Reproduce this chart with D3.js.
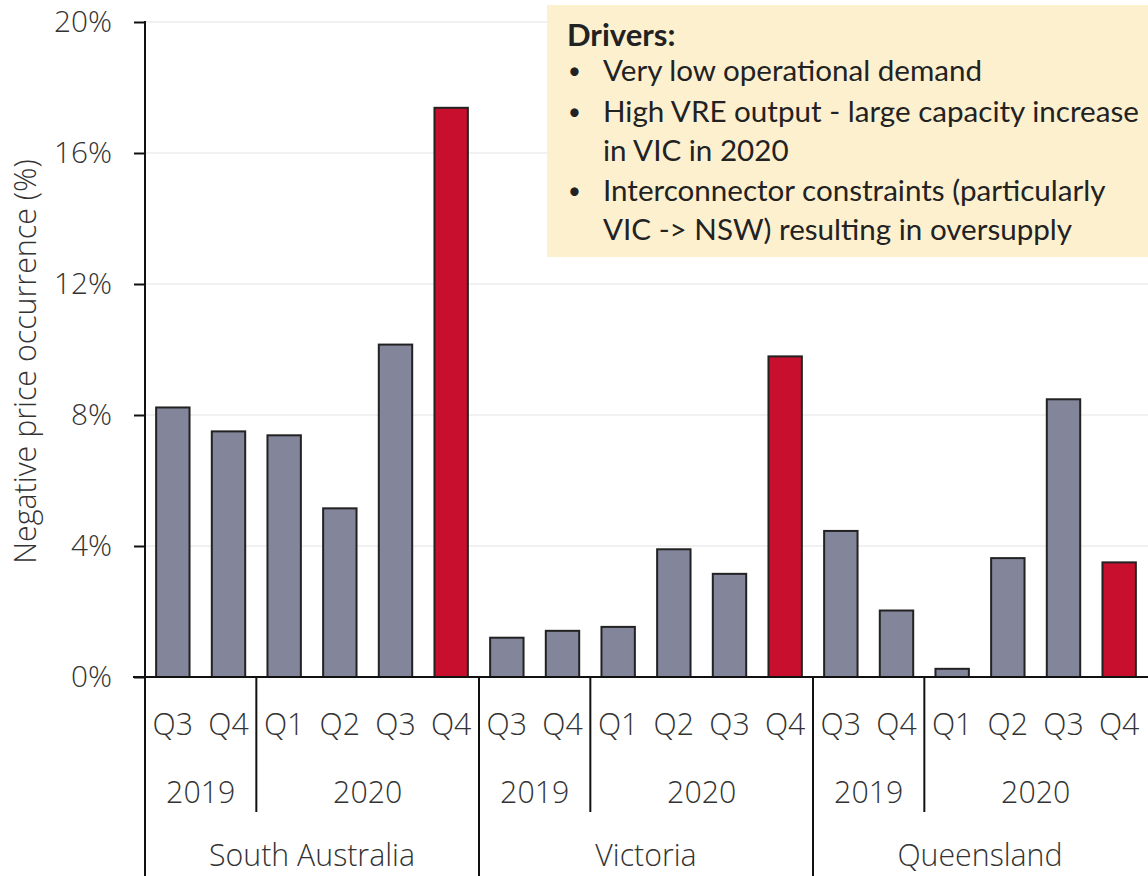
<!DOCTYPE html>
<html><head><meta charset="utf-8">
<script src="https://cdn.jsdelivr.net/npm/d3@7"></script>
<style>
html,body{margin:0;padding:0;background:#fff;}
svg{display:block;}
</style></head>
<body>
<svg id="chart" width="1148" height="876"></svg>
<script>
// ---- data ----
const regions = ["South Australia", "Victoria", "Queensland"];
const years = ["2019", "2019", "2020", "2020", "2020", "2020"];
const quarters = ["Q3", "Q4", "Q1", "Q2", "Q3", "Q4"];
const southAustralia = [8.23, 7.5, 7.38, 5.15, 10.15, 17.38];
const victoria = [1.2, 1.41, 1.53, 3.9, 3.15, 9.79];
const queensland = [4.46, 2.03, 0.25, 3.63, 8.48, 3.5];
const highlight = [false, false, false, false, false, true];
const yTicks = [0, 4, 8, 12, 16, 20];
const yTitle = "Negative price occurrence (%)";
const noteTitle = "Drivers:";
const noteBullets = [
  ["Very low operational demand"],
  ["High VRE output - large capacity increase", "in VIC in 2020"],
  ["Interconnector constraints (particularly", "VIC -> NSW) resulting in oversupply"]
];

(function () {
const seriesByRegion = [southAustralia, victoria, queensland];
const rows = [];
regions.forEach((r, ri) => {
  seriesByRegion[ri].forEach((v, qi) => {
    rows.push({region: r, ri, qi, year: years[qi], quarter: quarters[qi], value: v, hl: highlight[qi], key: ri + "-" + qi});
  });
});

// ---- layout ----
const svg = d3.select("#chart");
const axisFont = "'Open Sans', 'Noto Sans', sans-serif";
const axisWeight = 300;
const noteFont = "Lato, 'Open Sans', sans-serif";
const textColor = "#333";
const mLeft = 145, mRight = 1147, mTop = 22, mBottom = 677;

// measure helper: font size giving a target width
const meas = svg.append("text").attr("x", -1000).attr("y", -1000);
function fitSize(str, family, weight, target) {
  meas.attr("font-family", family).attr("font-weight", weight).attr("font-size", 100).text(str);
  const w = meas.node().getComputedTextLength();
  return 100 * target / w;
}
const axisSize = fitSize("South Australia", axisFont, axisWeight, 206);
const tickSize = fitSize("20%", axisFont, axisWeight, 58);
const titleSize = fitSize(yTitle, axisFont, axisWeight, 405);
const noteSize = fitSize("High VRE output - large capacity increase", noteFont, "normal", 536);
const noteTitleSize = Math.min(noteSize * 1.05, fitSize(noteTitle, noteFont, "bold", 118));
meas.remove();

const x = d3.scaleBand().domain(rows.map(d => d.key)).range([mLeft, mRight]).paddingInner(0.4).paddingOuter(0.2);
const y = d3.scaleLinear().domain([0, 20]).range([mBottom, mTop]);

// gridlines
svg.append("g").selectAll("line").data(yTicks.filter(t => t > 0)).join("line")
  .attr("x1", mLeft).attr("x2", 1148)
  .attr("y1", d => y(d)).attr("y2", d => y(d))
  .attr("stroke", "#ececec").attr("stroke-width", 1.5);

// bars
svg.append("g").selectAll("rect").data(rows).join("rect")
  .attr("x", d => x(d.key))
  .attr("width", x.bandwidth())
  .attr("y", d => y(d.value))
  .attr("height", d => y(0) - y(d.value))
  .attr("fill", d => d.hl ? "#c8102e" : "#83859b")
  .attr("stroke", "#222").attr("stroke-width", 2);

// y axis
const yAxis = d3.axisLeft(y).tickValues(yTicks).tickFormat(d => d + "%").tickSize(11).tickPadding(22);
const ga = svg.append("g").attr("transform", `translate(${mLeft},0)`).call(yAxis);
ga.select(".domain").remove();
ga.selectAll(".tick line").attr("stroke", "#111").attr("stroke-width", 2);
ga.selectAll(".tick text").attr("font-family", axisFont).attr("font-weight", axisWeight).attr("font-size", tickSize).attr("fill", textColor);

// axis lines
svg.append("line").attr("x1", mLeft).attr("x2", mLeft).attr("y1", mTop - 1).attr("y2", 876)
  .attr("stroke", "#111").attr("stroke-width", 2);
svg.append("line").attr("x1", 133).attr("x2", 1148).attr("y1", mBottom).attr("y2", mBottom)
  .attr("stroke", "#111").attr("stroke-width", 2);

const step = x.step();
// quarter labels
svg.append("g").selectAll("text").data(rows).join("text")
  .attr("x", d => x(d.key) + x.bandwidth() / 2)
  .attr("y", 735)
  .attr("text-anchor", "middle")
  .attr("font-family", axisFont).attr("font-weight", axisWeight).attr("font-size", axisSize).attr("fill", textColor)
  .text(d => d.quarter);

// year groups
const yearGroups = [];
regions.forEach((r, ri) => {
  const keys = rows.filter(d => d.ri === ri);
  d3.groups(keys, d => d.year).forEach(([yr, arr]) => {
    yearGroups.push({year: yr, ri, first: arr[0].key, last: arr[arr.length - 1].key});
  });
});
const groupStart = k => x(k) - x.paddingInner() * step / 2;
const groupEnd = k => x(k) + x.bandwidth() + x.paddingInner() * step / 2;

svg.append("g").selectAll("text").data(yearGroups).join("text")
  .attr("x", d => (groupStart(d.first) + groupEnd(d.last)) / 2)
  .attr("y", 803)
  .attr("text-anchor", "middle")
  .attr("font-family", axisFont).attr("font-weight", axisWeight).attr("font-size", axisSize).attr("fill", textColor)
  .text(d => d.year);

// year separators (within region)
svg.append("g").selectAll("line").data(yearGroups.filter((d, i) => i > 0 && yearGroups[i - 1].ri === d.ri)).join("line")
  .attr("x1", d => groupStart(d.first)).attr("x2", d => groupStart(d.first))
  .attr("y1", mBottom).attr("y2", 812)
  .attr("stroke", "#111").attr("stroke-width", 2);

// region labels & separators
const regionGroups = regions.map((r, ri) => {
  const arr = rows.filter(d => d.ri === ri);
  return {region: r, first: arr[0].key, last: arr[arr.length - 1].key};
});
svg.append("g").selectAll("text").data(regionGroups).join("text")
  .attr("x", d => (groupStart(d.first) + groupEnd(d.last)) / 2)
  .attr("y", 866)
  .attr("text-anchor", "middle")
  .attr("font-family", axisFont).attr("font-weight", axisWeight).attr("font-size", axisSize).attr("fill", textColor)
  .text(d => d.region);
svg.append("g").selectAll("line").data(regionGroups.slice(1)).join("line")
  .attr("x1", d => groupStart(d.first)).attr("x2", d => groupStart(d.first))
  .attr("y1", mBottom).attr("y2", 876)
  .attr("stroke", "#111").attr("stroke-width", 2);

// y title
svg.append("text")
  .attr("transform", `translate(36,${(158 + 565) / 2}) rotate(-90)`)
  .attr("text-anchor", "middle")
  .attr("font-family", axisFont).attr("font-weight", axisWeight).attr("font-size", titleSize).attr("fill", textColor)
  .text(yTitle);

// annotation box
const note = svg.append("g");
note.append("rect").attr("x", 547).attr("y", 5).attr("width", 601).attr("height", 252)
  .attr("fill", "#fdf0cf");
note.append("text").attr("x", 567).attr("y", 46)
  .attr("font-family", noteFont).attr("font-size", noteTitleSize).attr("font-weight", "bold").attr("fill", "#222")
  .text(noteTitle);
let lineY = 81;
const lineH = 38.8;
noteBullets.forEach((b) => {
  note.append("text").attr("x", 568).attr("y", lineY - 2)
    .attr("font-family", noteFont).attr("font-size", noteSize * 0.75).attr("fill", "#222").text("•");
  b.forEach((ln) => {
    note.append("text").attr("x", 603).attr("y", lineY)
      .attr("font-family", noteFont).attr("font-size", noteSize).attr("fill", "#222").text(ln);
    lineY += lineH;
  });
  lineY += 2;
});
})();
</script>
</body></html>
